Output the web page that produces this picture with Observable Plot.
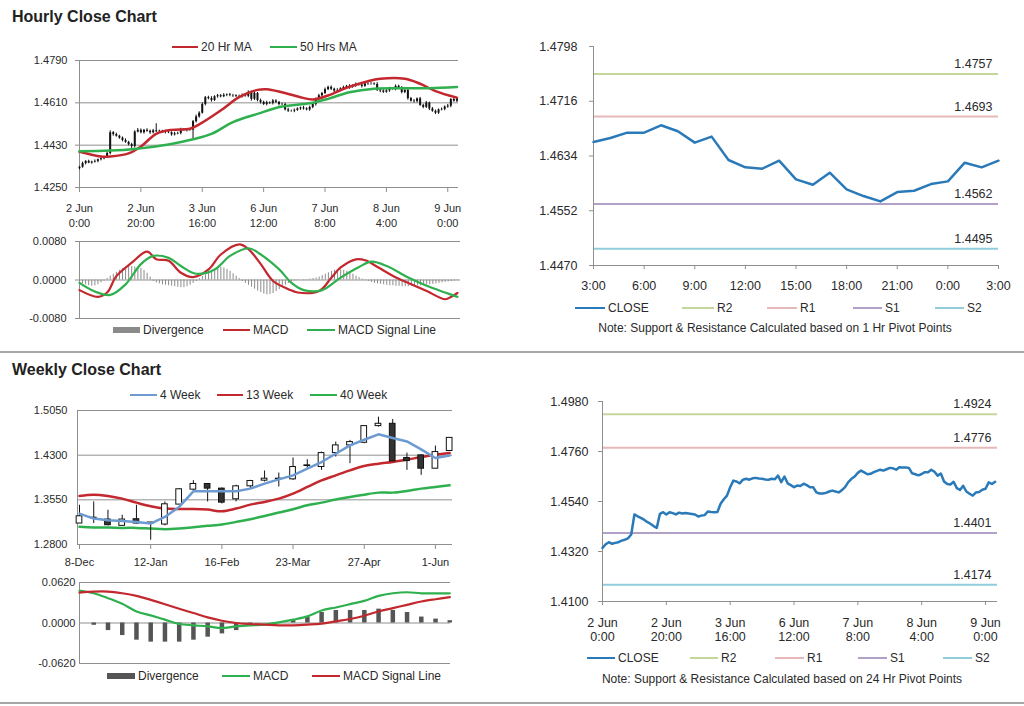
<!DOCTYPE html>
<html><head><meta charset="utf-8">
<script src="https://cdn.jsdelivr.net/npm/d3@7"></script>
<script src="https://cdn.jsdelivr.net/npm/@observablehq/plot@0.6"></script>
<style>
body{margin:0;background:#fff;font-family:"Liberation Sans",Arial,sans-serif;}
#root{position:relative;width:1024px;height:706px;overflow:hidden;background:#fff;}
.pane{position:absolute;}
</style></head><body><div id="root"></div>
<script>
// ---------------- DATA ----------------
// Hourly closes, 2 Jun 0:00 .. 9 Jun 3:00 (trading hours, index = hour)
const hourClose = [
1.4336,1.4352,1.4361,1.4354,1.4358,1.4361,1.4368,1.4372,1.4378,1.4395,
1.4483,1.4475,1.4468,1.4460,1.4450,1.4442,1.4432,1.4424,1.4486,1.4493,
1.4483,1.4493,1.4489,1.4483,1.4491,1.4487,1.4489,1.4487,1.4485,1.4483,
1.4474,1.4478,1.4480,1.4496,1.4494,1.4493,1.4494,1.4530,1.4550,1.4566,
1.4603,1.4632,1.4628,1.4620,1.4636,1.4640,1.4636,1.4642,1.4644,1.4641,
1.4640,1.4637,1.4636,1.4640,1.4638,1.4654,1.4625,1.4650,1.4620,1.4612,
1.4603,1.4610,1.4608,1.4618,1.4612,1.4603,1.4603,1.4580,1.4575,1.4575,
1.4578,1.4584,1.4588,1.4584,1.4580,1.4590,1.4603,1.4625,1.4640,1.4650,
1.4666,1.4676,1.4668,1.4660,1.4662,1.4669,1.4675,1.4680,1.4676,1.4682,
1.4688,1.4686,1.4680,1.4691,1.4690,1.4690,1.4688,1.4664,1.4660,1.4655,
1.4661,1.4669,1.4669,1.4680,1.4671,1.4654,1.4663,1.4628,1.4617,1.4615,
1.4627,1.4599,1.4591,1.4609,1.4584,1.4574,1.4566,1.4580,1.4582,1.4592,
1.4596,1.4624,1.4617,1.4627];
const hourFirstOpen = 1.4330;
// wick extension beyond body, in pips
const hourWickUp = [
4,6,3,5,4,6,3,5,4,7, 8,5,6,4,5,7,4,6,5,8, 6,4,7,5,6,30,5,4,6,5, 4,7,5,6,4,5,6,5,8,6,
7,5,6,8,4,6,5,7,4,6, 5,4,6,8,5,7,6,5,4,6, 5,7,4,6,5,4,6,5,7,4, 6,5,4,7,5,6,8,5,6,4,
7,5,6,4,8,5,6,4,7,5, 6,4,5,7,4,6,5,8,4,6, 5,7,4,6,5,8,4,6,5,7, 4,6,5,7,4,6,5,4,6,5,
7,4,6,5];
const hourWickDown = [
5,4,6,3,5,4,6,5,4,5, 6,7,4,5,6,4,5,8,6,4, 5,6,4,7,5,4,6,5,7,4, 6,5,4,6,5,7,4,44,6,5,
4,6,5,7,4,6,5,4,6,5, 7,4,6,5,4,6,8,5,6,7, 4,6,5,7,4,6,5,4,6,5, 7,4,6,5,4,6,5,7,4,6,
5,4,6,7,5,4,6,5,8,4, 6,5,7,4,6,5,4,6,7,5, 4,6,5,8,4,6,5,7,4,6, 5,4,6,5,7,4,6,5,4,6,
5,7,4,6];
const hourTickIdx = [0,20,40,60,80,100,120];
const hourTickLabels = ["2 Jun\n0:00","2 Jun\n20:00","3 Jun\n16:00","6 Jun\n12:00","7 Jun\n8:00","8 Jun\n4:00","9 Jun\n0:00"];
const hourYTicks = [1.4250,1.4430,1.4610,1.4790];
const maNames = ["20 Hr MA","50 Hrs MA"];
const ma20Hour = [0,7,10,16,20,25,30,36,39,46,52,58,61,66,72,76,81,87,94,98,106,111,116,123];
const ma20Val  = [1.4402,1.4382,1.4382,1.4395,1.4424,1.4478,1.4495,1.4500,1.4518,1.4577,1.4634,1.4665,1.4668,1.4655,1.4634,1.4624,1.4641,1.4674,1.4702,1.4712,1.4712,1.4691,1.4660,1.4632];
const ma50Hour = [0,10,18,29,37,43,50,58,66,75,81,88,96,105,114,123];
const ma50Val  = [1.4404,1.4407,1.4414,1.4433,1.4455,1.4478,1.4528,1.4563,1.4594,1.4608,1.4627,1.4655,1.4670,1.4672,1.4672,1.4677];
// Hourly MACD
const macdNames = ["Divergence","MACD","MACD Signal Line"];
const macdYTicks = [-0.008,0,0.008];
const macdHour = [0,6,9,12,17,22,25,29,33,37,42,46,52,55,59,63,68,71,78,82,85,90,93,97,103,107,113,119,121,123];
const macdVal  = [-0.0021,-0.0035,-0.0026,0.0008,0.0036,0.0059,0.0043,0.0040,0.0015,0.0006,0.0022,0.0053,0.0074,0.0064,0.0033,-0.0002,-0.0019,-0.0026,-0.0023,0.0005,0.0026,0.0043,0.0041,0.0027,0.0005,-0.0006,-0.0023,-0.0040,-0.0035,-0.0027];
const signalHour = [0,5,10,15,20,24,29,33,38,44,49,55,59,65,69,73,79,85,91,95,100,107,113,119,123];
const signalVal  = [-0.0006,-0.0024,-0.0031,-0.0009,0.0033,0.0050,0.0046,0.0029,0.0013,0.0022,0.0050,0.0066,0.0053,0.0022,-0.0006,-0.0021,-0.0021,0.0005,0.0027,0.0038,0.0029,0.0005,-0.0012,-0.0026,-0.0035];
// divergence, units of 0.0001
const hourDivergence = [
-5,-8,-10,-12,-13,-12,-10,-6,-2,
3,8,12,16,20,24,27,29,28,27,26,24,20,14,6,
-3,-6,-8,-10,-11,-12,-13,-14,-15,-16,-16,-14,-11,-7,-3,
3,7,11,15,18,21,24,26,25,22,18,13,8,3,
-3,-7,-11,-15,-19,-23,-26,-29,-31,-30,-28,-24,-20,-15,-11,-7,-4,-2,
-1,0,1,1,2,3,4,6,
9,12,15,18,20,21,21,20,18,15,12,8,5,2,
-1,-3,-5,-7,-8,-9,-10,-11,-12,-12,-13,-13,-14,-14,-14,-13,-13,-12,-12,-11,-10,-10,-9,-8,-7,-6,-5,-4,-3,-2,-1];
// 1 Hr pivot chart
const pivotHourLabels = ["3:00","6:00","9:00","12:00","15:00","18:00","21:00","0:00","3:00"];
const pivotHourClose = [1.4655,1.4661,1.4669,1.4669,1.4680,1.4671,1.4654,1.4663,1.4628,1.4617,1.4615,1.4627,1.4599,1.4591,1.4609,1.4584,1.4574,1.4566,1.4580,1.4582,1.4592,1.4596,1.4624,1.4617,1.4627];
const pivotHourYTicks = [1.4470,1.4552,1.4634,1.4716,1.4798];
const levelNames = ["R2","R1","S1","S2"];
const pivotHourLevels = [1.4757,1.4693,1.4562,1.4495];
// 24 Hr pivot chart
const pivotDayYTicks = [1.4100,1.4320,1.4540,1.4760,1.4980];
const pivotDayLevels = [1.4924,1.4776,1.4401,1.4174];
// Weekly
const weekTickIdx = [0,5,10,15,20,25];
const weekTickLabels = ["8-Dec","12-Jan","16-Feb","23-Mar","27-Apr","1-Jun"];
const weekYTicks = [1.2800,1.3550,1.4300,1.5050];
const weekOpen  = [1.3152,1.3250,1.3219,1.3113,1.3224,1.3169,1.3135,1.3470,1.3721,1.3816,1.3738,1.3559,1.3777,1.3872,1.3905,1.3894,1.4118,1.4101,1.4335,1.4464,1.4508,1.4788,1.4827,1.4252,1.4296,1.4073,1.4370];
const weekHigh  = [1.3459,1.3515,1.3375,1.3291,1.3459,1.3169,1.3515,1.3738,1.3872,1.3816,1.3749,1.3794,1.3877,1.4034,1.4000,1.4252,1.4224,1.4352,1.4520,1.4548,1.4788,1.4938,1.4899,1.4335,1.4307,1.4453,1.4590];
const weekLow   = [1.3152,1.3152,1.3113,1.3113,1.3141,1.2872,1.3113,1.3470,1.3682,1.3515,1.3481,1.3515,1.3738,1.3850,1.3766,1.3877,1.4073,1.4045,1.4268,1.4157,1.4492,1.4771,1.4196,1.4045,1.3961,1.4073,1.4370];
const weekClose = [1.3274,1.3240,1.3124,1.3219,1.3152,1.3146,1.3475,1.3727,1.3816,1.3738,1.3503,1.3777,1.3866,1.3905,1.3900,1.4101,1.4129,1.4335,1.4464,1.4520,1.4788,1.4827,1.4196,1.4201,1.4073,1.4352,1.4590];
const weekMaNames = ["4 Week","13 Week","40 Week"];
const ma4Week  = [1.3319,1.3235,1.3207,1.3196,1.3179,1.3152,1.3263,1.3431,1.3693,1.3693,1.3693,1.3693,1.3738,1.3822,1.3894,1.3961,1.4073,1.4185,1.4324,1.4464,1.4559,1.4650,1.4587,1.4531,1.4397,1.4252,1.4296];
const ma13Week = [1.3615,1.3637,1.3615,1.3570,1.3503,1.3442,1.3403,1.3397,1.3397,1.3386,1.3358,1.3403,1.3470,1.3515,1.3570,1.3654,1.3766,1.3877,1.3961,1.4045,1.4118,1.4157,1.4185,1.4224,1.4268,1.4307,1.4335];
const ma40Week = [1.3096,1.3085,1.3085,1.3079,1.3079,1.3068,1.3057,1.3068,1.3091,1.3113,1.3135,1.3180,1.3224,1.3280,1.3336,1.3392,1.3459,1.3503,1.3554,1.3598,1.3637,1.3671,1.3671,1.3699,1.3738,1.3766,1.3794];
const weekMacdYTicks = [-0.062,0,0.062];
const weekMacd   = [0.0496,0.0455,0.0380,0.0293,0.0177,0.0116,0.0051,-0.0015,-0.0035,-0.0051,-0.0076,-0.0051,-0.0035,-0.0025,0.0010,0.0051,0.0101,0.0192,0.0238,0.0288,0.0339,0.0415,0.0455,0.0471,0.0455,0.0455,0.0455];
const weekSignal = [0.0466,0.0481,0.0481,0.0455,0.0415,0.0354,0.0288,0.0218,0.0152,0.0086,0.0035,0.0000,-0.0015,-0.0025,-0.0035,-0.0035,-0.0025,-0.0010,0.0025,0.0061,0.0111,0.0177,0.0228,0.0278,0.0329,0.0364,0.0395];
const weekDivergence = [0,-0.0035,-0.0116,-0.0192,-0.0263,-0.0293,-0.0293,-0.0293,-0.0263,-0.0217,-0.0167,-0.0116,-0.0020,0.0000,0.0010,0.0050,0.0086,0.0161,0.0192,0.0192,0.0192,0.0212,0.0192,0.0161,0.0091,0.0060,0.0035];
const titles = ["Hourly Close Chart","Weekly Close Chart"];
const notes = ["Note: Support & Resistance Calculated based on 1 Hr Pivot Points","Note: Support & Resistance Calculated based on 24 Hr Pivot Points"];
const closeName = "CLOSE";

// ---------------- STYLE ----------------
const FONT = "'Liberation Sans', Arial, sans-serif";
const RED = "#c3282e", GREEN = "#2fb04f", CLOSE_BLUE = "#2a7ab9", BLUE4 = "#6d9ad0";
const LEVEL_COLORS = ["#c4d79b","#e6b8b7","#b2a1c7","#92cddc"];
const GRID = "#8f8f8f", AXIS = "#8f8f8f", TXT = "#2a2a2a";
const fmt4 = d => (d < 0 ? "-" : "") + Math.abs(d).toFixed(4);

const root = document.getElementById("root");
function place(svg, left, top) {
  const div = document.createElement("div");
  div.className = "pane";
  div.style.left = left + "px"; div.style.top = top + "px";
  div.appendChild(svg); root.appendChild(div);
}
const baseStyle = fs => ({fontFamily: FONT, fontSize: fs, color: TXT, background: "transparent", overflow: "visible"});

// ---------------- Hourly candles ----------------
const hourCandles = hourClose.map((c, i) => {
  const o = i === 0 ? hourFirstOpen : hourClose[i - 1];
  return {i, o, c, h: Math.max(o, c) + hourWickUp[i] * 1e-4, l: Math.min(o, c) - hourWickDown[i] * 1e-4};
});
const ma20 = ma20Hour.map((x, k) => ({x, y: ma20Val[k]}));
const ma50 = ma50Hour.map((x, k) => ({x, y: ma50Val[k]}));
place(Plot.plot({
  width: 470, height: 190, marginLeft: 79, marginRight: 12, marginTop: 10, marginBottom: 53,
  style: baseStyle("11px"),
  x: {domain: [0, 123.5]}, y: {domain: [1.4250, 1.4790]},
  marks: [
    Plot.ruleY(hourYTicks, {stroke: GRID}),
    Plot.ruleX([0], {stroke: AXIS}),
    Plot.axisY(hourYTicks, {tickFormat: fmt4, tickSize: 4, tickPadding: 8, stroke: AXIS, fill: TXT, label: null}),
    Plot.axisX(hourTickIdx, {tickFormat: d => hourTickLabels[hourTickIdx.indexOf(d)], tickSize: 5, tickPadding: 9, lineHeight: 1.33, stroke: AXIS, fill: TXT, label: null}),
    Plot.ruleX(hourCandles, {x: "i", y1: "l", y2: "h", stroke: "#111", strokeWidth: 1}),
    Plot.ruleX(hourCandles, {x: "i", y1: "o", y2: "c", stroke: "#111", strokeWidth: 2}),
    Plot.line(ma20, {x: "x", y: "y", stroke: RED, strokeWidth: 2.5, curve: "catmull-rom"}),
    Plot.line(ma50, {x: "x", y: "y", stroke: GREEN, strokeWidth: 2.5, curve: "catmull-rom"})
  ]
}), 0, 50);

// ---------------- Hourly MACD ----------------
const macdLine = macdHour.map((x, k) => ({x, y: macdVal[k]}));
const sigLine = signalHour.map((x, k) => ({x, y: signalVal[k]}));
const hourDiv = hourDivergence.map((d, i) => ({i, d: d * 1e-4}));
place(Plot.plot({
  width: 470, height: 95, marginLeft: 79, marginRight: 10, marginTop: 9, marginBottom: 9,
  style: baseStyle("11px"),
  x: {domain: [0, 124], axis: null}, y: {domain: [-0.008, 0.008]},
  marks: [
    Plot.ruleY(macdYTicks, {stroke: GRID}),
    Plot.ruleX([0], {stroke: AXIS}),
    Plot.axisY(macdYTicks, {tickFormat: fmt4, tickSize: 4, tickPadding: 9, stroke: AXIS, fill: TXT, label: null}),
    Plot.ruleX(hourDiv, {x: "i", y1: 0, y2: "d", stroke: "#8a8a8a", strokeWidth: 1}),
    Plot.line(macdLine, {x: "x", y: "y", stroke: RED, strokeWidth: 2.2, curve: "catmull-rom"}),
    Plot.line(sigLine, {x: "x", y: "y", stroke: GREEN, strokeWidth: 2.2, curve: "catmull-rom"})
  ]
}), 0, 232);

// ---------------- Pivot charts ----------------
function pivotChart({closeData, xDomain, xTicks, xFormat, yTicks, levels, width, height, mL, mR, mT, mB, tickPad, xPad, lineH}) {
  const lv = levels.map((v, k) => ({v, name: levelNames[k], color: LEVEL_COLORS[k]}));
  return Plot.plot({
    width, height, marginLeft: mL, marginRight: mR, marginTop: mT, marginBottom: mB,
    style: baseStyle("12.5px"),
    x: {domain: xDomain}, y: {domain: [yTicks[0], yTicks[yTicks.length - 1]]},
    marks: [
      Plot.ruleY(lv, {y: "v", stroke: "color", strokeWidth: 2}),
      Plot.text(lv, {x: xDomain[1], y: "v", text: d => d.v.toFixed(4), dy: -10, dx: -6, textAnchor: "end", fill: TXT, fontSize: 12.5}),
      Plot.ruleX([xDomain[0]], {stroke: AXIS}),
      Plot.ruleY([yTicks[0]], {stroke: AXIS}),
      Plot.axisY(yTicks, {tickFormat: fmt4, tickSize: 4, tickPadding: tickPad, stroke: AXIS, fill: TXT, label: null}),
      Plot.axisX(xTicks, {tickFormat: xFormat, tickSize: 4, tickPadding: xPad, lineHeight: lineH, stroke: AXIS, fill: TXT, label: null}),
      Plot.line(closeData, {x: "x", y: "y", stroke: CLOSE_BLUE, strokeWidth: 2.5})
    ]
  });
}
const pivotTicks = d3.range(0, 25, 3);
place(pivotChart({
  closeData: pivotHourClose.map((y, x) => ({x, y})), xDomain: [0, 24], xTicks: pivotTicks,
  xFormat: d => pivotHourLabels[pivotTicks.indexOf(d)], yTicks: pivotHourYTicks, levels: pivotHourLevels,
  width: 504, height: 262, mL: 73, mR: 26, mT: 10, mB: 33, tickPad: 12, xPad: 12, lineH: 1
}), 520, 36);
place(pivotChart({
  closeData: hourClose.map((y, x) => ({x, y})), xDomain: [0, 123.75], xTicks: hourTickIdx,
  xFormat: d => hourTickLabels[hourTickIdx.indexOf(d)], yTicks: pivotDayYTicks, levels: pivotDayLevels,
  width: 504, height: 255, mL: 82, mR: 27, mT: 11, mB: 44, tickPad: 10, xPad: 11, lineH: 1.15
}), 520, 390);

// ---------------- Weekly candles ----------------
const weeks = weekClose.map((c, i) => ({i, o: weekOpen[i], h: weekHigh[i], l: weekLow[i], c, m4: ma4Week[i], m13: ma13Week[i], m40: ma40Week[i]}));
place(Plot.plot({
  width: 470, height: 175, marginLeft: 77, marginRight: 18, marginTop: 10, marginBottom: 31,
  style: baseStyle("11px"),
  x: {domain: [-0.14, 26.2]}, y: {domain: [1.2800, 1.5050]},
  marks: [
    Plot.ruleY(weekYTicks, {stroke: GRID}),
    Plot.ruleX([-0.14], {stroke: AXIS}),
    Plot.axisY(weekYTicks, {tickFormat: fmt4, tickSize: 0, tickPadding: 10, stroke: AXIS, fill: TXT, label: null}),
    Plot.axisX(weekTickIdx, {tickFormat: d => weekTickLabels[weekTickIdx.indexOf(d)], tickSize: 5, tickPadding: 9, stroke: AXIS, fill: TXT, label: null}),
    Plot.line(weeks, {x: "i", y: "m40", stroke: GREEN, strokeWidth: 2.5, curve: "catmull-rom"}),
    Plot.line(weeks, {x: "i", y: "m13", stroke: RED, strokeWidth: 2.5, curve: "catmull-rom"}),
    Plot.ruleX(weeks, {x: "i", y1: "l", y2: "h", stroke: "#111", strokeWidth: 1}),
    Plot.rect(weeks.filter(d => d.c >= d.o), {x1: d => d.i - 0.2, x2: d => d.i + 0.2, y1: "o", y2: "c", fill: "white", stroke: "#111", strokeWidth: 1}),
    Plot.rect(weeks.filter(d => d.c < d.o), {x1: d => d.i - 0.2, x2: d => d.i + 0.2, y1: "o", y2: "c", fill: "#333", stroke: "#111", strokeWidth: 1}),
    Plot.line(weeks, {x: "i", y: "m4", stroke: BLUE4, strokeWidth: 2.5})
  ]
}), 0, 400);

// ---------------- Weekly MACD ----------------
const wm = weekMacd.map((m, i) => ({i, m, s: weekSignal[i], d: weekDivergence[i]}));
place(Plot.plot({
  width: 470, height: 96, marginLeft: 79, marginRight: 20, marginTop: 8, marginBottom: 7,
  style: baseStyle("11px"),
  x: {domain: [0, 26.05], axis: null}, y: {domain: [-0.062, 0.062]},
  marks: [
    Plot.ruleY(weekMacdYTicks, {stroke: GRID}),
    Plot.ruleX([0], {stroke: AXIS}),
    Plot.axisY(weekMacdYTicks, {tickFormat: fmt4, tickSize: 0, tickPadding: 4, stroke: AXIS, fill: TXT, label: null}),
    Plot.ruleX(wm.filter(d => d.d !== 0), {x: "i", y1: 0, y2: "d", stroke: "#555", strokeWidth: 4.5}),
    Plot.line(wm, {x: "i", y: "m", stroke: GREEN, strokeWidth: 2.2, curve: "catmull-rom"}),
    Plot.line(wm, {x: "i", y: "s", stroke: RED, strokeWidth: 2.2, curve: "catmull-rom"})
  ]
}), 0, 574);

// ---------------- Titles, legends, separators ----------------
const ov = d3.select(root).append("svg").attr("width", 1024).attr("height", 706)
  .style("position", "absolute").style("left", 0).style("top", 0).style("pointer-events", "none")
  .style("font-family", FONT);
ov.append("line").attr("x1", 0).attr("x2", 1024).attr("y1", 352).attr("y2", 352).attr("stroke", "#a6a6a6").attr("stroke-width", 2);
ov.append("line").attr("x1", 0).attr("x2", 1024).attr("y1", 703).attr("y2", 703).attr("stroke", "#a6a6a6").attr("stroke-width", 2);
[[titles[0], 16], [titles[1], 369]].forEach(([t, y]) =>
  ov.append("text").attr("x", 12).attr("y", y).attr("dy", "0.35em").attr("font-size", 16).attr("font-weight", "bold").attr("fill", "#222").text(t));
function legend(items, y, fs) {
  items.forEach(it => {
    if (it.box) ov.append("rect").attr("x", it.x1).attr("y", y - 3).attr("width", it.x2 - it.x1).attr("height", 6).attr("fill", it.color);
    else ov.append("line").attr("x1", it.x1).attr("x2", it.x2).attr("y1", y).attr("y2", y).attr("stroke", it.color).attr("stroke-width", 2);
    ov.append("text").attr("x", it.x2 + 3).attr("y", y).attr("dy", "0.35em").attr("font-size", fs).attr("fill", TXT).text(it.label);
  });
}
legend([{x1: 172, x2: 198, color: RED, label: maNames[0]}, {x1: 270, x2: 297, color: GREEN, label: maNames[1]}], 47, 12);
legend([{x1: 113, x2: 140, color: "#8a8a8a", box: true, label: macdNames[0]}, {x1: 223, x2: 250, color: RED, label: macdNames[1]}, {x1: 307, x2: 335, color: GREEN, label: macdNames[2]}], 330, 12);
legend([{x1: 130, x2: 157, color: BLUE4, label: weekMaNames[0]}, {x1: 217, x2: 243, color: RED, label: weekMaNames[1]}, {x1: 310, x2: 337, color: GREEN, label: weekMaNames[2]}], 395, 12);
legend([{x1: 107, x2: 135, color: "#555", box: true, label: macdNames[0]}, {x1: 222, x2: 250, color: GREEN, label: macdNames[1]}, {x1: 312, x2: 340, color: RED, label: macdNames[2]}], 676, 12);
const pivLegX1 = [[575, 605], [682, 714], [767, 797], [853, 882], [935, 964]];
const pivLegX2 = [[587, 615], [690, 718], [775, 804], [858, 887], [943, 972]];
const legNames = [closeName, ...levelNames], legColors = [CLOSE_BLUE, ...LEVEL_COLORS];
legend(pivLegX1.map(([a, b], k) => ({x1: a, x2: b, color: legColors[k], label: legNames[k]})), 308, 12);
legend(pivLegX2.map(([a, b], k) => ({x1: a, x2: b, color: legColors[k], label: legNames[k]})), 658, 12);
ov.append("text").attr("x", 775).attr("y", 328).attr("dy", "0.35em").attr("text-anchor", "middle").attr("font-size", 12).attr("fill", TXT).text(notes[0]);
ov.append("text").attr("x", 782).attr("y", 679).attr("dy", "0.35em").attr("text-anchor", "middle").attr("font-size", 12).attr("fill", TXT).text(notes[1]);
</script></body></html>
